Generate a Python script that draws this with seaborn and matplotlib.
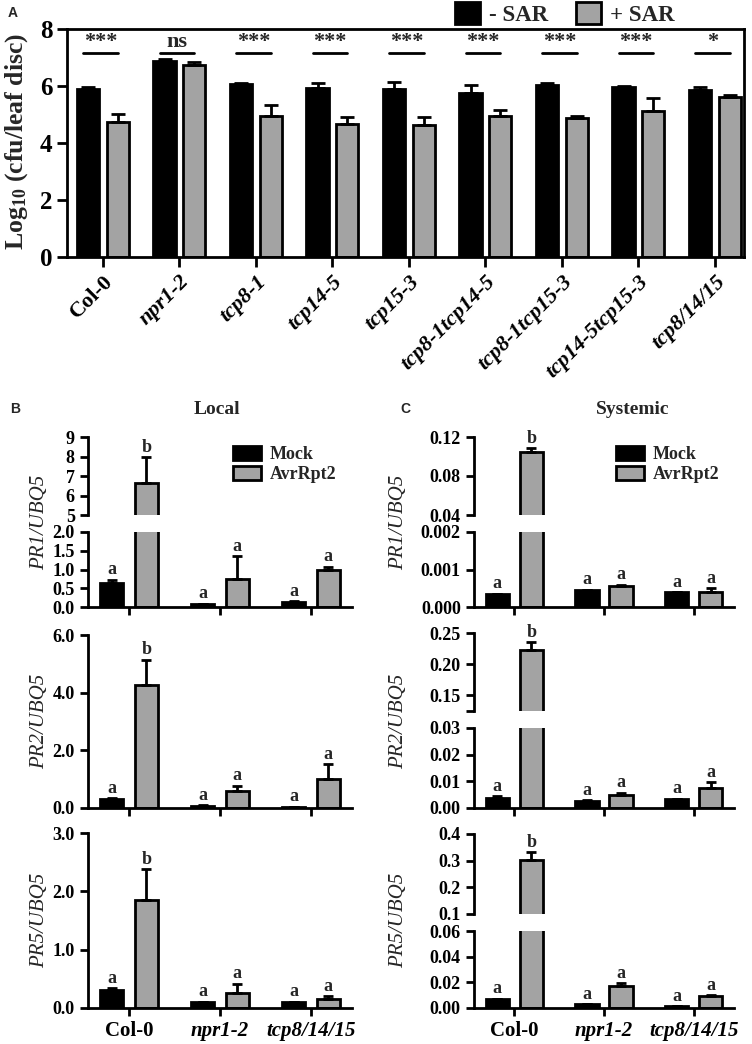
import numpy as np
import pandas as pd
import matplotlib
matplotlib.use("Agg")
import matplotlib.pyplot as plt
from matplotlib.patches import Patch
import seaborn as sns

# ---------------- data ----------------
genotypes_A = ["Col-0", "npr1-2", "tcp8-1", "tcp14-5", "tcp15-3",
               "tcp8-1tcp14-5", "tcp8-1tcp15-3", "tcp14-5tcp15-3", "tcp8/14/15"]
minus_sar = [5.90, 6.89, 6.07, 5.93, 5.89, 5.75, 6.05, 5.98, 5.86]
minus_sar_err = [0.06, 0.06, 0.04, 0.16, 0.25, 0.29, 0.05, 0.03, 0.12]
plus_sar = [4.73, 6.75, 4.94, 4.67, 4.64, 4.94, 4.88, 5.14, 5.61]
plus_sar_err = [0.27, 0.10, 0.41, 0.23, 0.27, 0.22, 0.08, 0.44, 0.08]
sig_labels = ["***", "ns", "***", "***", "***", "***", "***", "***", "*"]

genotypes_B = ["Col-0", "npr1-2", "tcp8/14/15"]
treatments = ["Mock", "AvrRpt2"]

pr1_local_mock = [0.65, 0.08, 0.14]
pr1_local_mock_err = [0.08, 0.01, 0.01]
pr1_local_avr = [6.65, 0.75, 0.98]
pr1_local_avr_err = [1.33, 0.60, 0.10]

pr2_local_mock = [0.32, 0.08, 0.03]
pr2_local_mock_err = [0.03, 0.01, 0.01]
pr2_local_avr = [4.25, 0.58, 1.02]
pr2_local_avr_err = [0.89, 0.19, 0.49]

pr5_local_mock = [0.31, 0.10, 0.10]
pr5_local_mock_err = [0.03, 0.005, 0.005]
pr5_local_avr = [1.85, 0.26, 0.16]
pr5_local_avr_err = [0.53, 0.16, 0.04]

pr1_sys_mock = [0.00035, 0.00045, 0.00039]
pr1_sys_mock_err = [0.00001, 0.00001, 0.00001]
pr1_sys_avr = [0.1047, 0.00057, 0.00039]
pr1_sys_avr_err = [0.004, 0.00003, 0.00011]

pr2_sys_mock = [0.0039, 0.0027, 0.0033]
pr2_sys_mock_err = [0.0006, 0.0002, 0.0002]
pr2_sys_avr = [0.222, 0.0048, 0.0074]
pr2_sys_avr_err = [0.013, 0.0010, 0.0022]

pr5_sys_mock = [0.0070, 0.0030, 0.0013]
pr5_sys_mock_err = [0.0003, 0.0002, 0.0001]
pr5_sys_avr = [0.304, 0.0168, 0.0090]
pr5_sys_avr_err = [0.027, 0.0026, 0.0008]

letters_mock = ["a", "a", "a"]
letters_avr = ["b", "a", "a"]

# ---------------- style ----------------
sns.set_style("ticks")
plt.rcParams['font.family'] = ['Liberation Serif', 'DejaVu Serif']
plt.rcParams['font.weight'] = 'bold'
plt.rcParams['mathtext.fontset'] = 'custom'
plt.rcParams['mathtext.rm'] = 'Liberation Serif:bold'
plt.rcParams['mathtext.bf'] = 'Liberation Serif:bold'
plt.rcParams['mathtext.it'] = 'Liberation Serif:italic:bold'
plt.rcParams['axes.edgecolor'] = 'black'
plt.rcParams['axes.linewidth'] = 2
plt.rcParams['xtick.color'] = 'black'
plt.rcParams['ytick.color'] = 'black'

GRAY = "#a3a3a3"
W, H = 752, 1044
fig = plt.figure(figsize=(W / 100, H / 100), dpi=100)


def rect(x0, x1, y0, y1):
    return [x0 / W, 1 - y1 / H, (x1 - x0) / W, (y1 - y0) / H]


def bars(ax, cats, s1, s2, names, width, gap, lw=2):
    df = pd.DataFrame({"genotype": cats * 2,
                       "group": [names[0]] * len(cats) + [names[1]] * len(cats),
                       "value": list(s1) + list(s2)})
    sns.barplot(data=df, x="genotype", y="value", hue="group", order=cats,
                hue_order=names, palette=["black", GRAY], saturation=1,
                errorbar=None, width=width, gap=gap, edgecolor="black",
                linewidth=lw, legend=False, ax=ax)
    return ax.containers[0], ax.containers[1]


def errbars(ax, cont, vals, errs, capsize):
    xs = [p.get_x() + p.get_width() / 2 for p in cont.patches]
    ax.errorbar(xs, vals, yerr=[np.zeros(len(vals)), errs], fmt='none',
                ecolor='black', elinewidth=2, capsize=capsize, capthick=2,
                zorder=1)
    return xs


def style_axis(ax, fs):
    ax.tick_params(axis='both', direction='out', length=6, width=2,
                   labelsize=fs, colors='black')
    ax.set_xlabel("")
    ax.set_ylabel("")


# ---------------- panel A ----------------
axA = fig.add_axes(rect(67, 744, 29, 257))
cA1, cA2 = bars(axA, genotypes_A, minus_sar, plus_sar, ["- SAR", "+ SAR"], 0.78, 0.26)
xa1 = errbars(axA, cA1, minus_sar, minus_sar_err, 5)
xa2 = errbars(axA, cA2, plus_sar, plus_sar_err, 5)
axA.set_ylim(0, 8)
axA.set_yticks([0, 2, 4, 6, 8])
axA.set_xlim(-0.47, 8.38)
style_axis(axA, 18)
axA.tick_params(axis='both', length=7)
for s in axA.spines.values():
    s.set_visible(True)
    s.set_linewidth(2)
axA.set_xticks(range(len(genotypes_A)))
axA.set_xticklabels(genotypes_A, rotation=45, ha='right', rotation_mode='anchor',
                    fontsize=16)
for i, t in enumerate(axA.get_xticklabels()):
    t.set_fontstyle('normal' if i == 0 else 'italic')
for i, lab in enumerate(sig_labels):
    x0, x1 = xa1[i] - 0.06, xa2[i]
    axA.plot([x0, x1], [7.16, 7.16], color='black', lw=2)
    axA.text((x0 + x1) / 2, 7.2, lab, ha='center', va='bottom', fontsize=16)
fig.text(17 / W, 1 - 141 / H, r"Log$_{10}$ (cfu/leaf disc)", rotation=90,
         ha='center', va='center', fontsize=18.5)
fig.legend(handles=[Patch(facecolor='black', edgecolor='black', lw=2, label='- SAR'),
                    Patch(facecolor=GRAY, edgecolor='black', lw=2, label='+ SAR')],
           loc='center', bbox_to_anchor=(565 / W, 1 - 14 / H), ncol=2, frameon=False,
           fontsize=16.5, handlelength=1.1, handleheight=1.05, columnspacing=1.2,
           handletextpad=0.4, borderpad=0)
fig.text(13 / W, 1 - 13 / H, "A", fontfamily='Liberation Sans', fontweight='bold',
         fontsize=10, ha='center', va='center')

# ---------------- panels B & C ----------------
XL = (-0.45, 2.45)


def letter(ax, x, y, txt):
    ax.annotate(txt, (x, y), xytext=(0, 1), textcoords='offset points',
                ha='center', va='bottom', fontsize=13, annotation_clip=False)


def set_xlabels(ax, show):
    ax.set_xticks(range(3))
    if show:
        ax.set_xticklabels(genotypes_B, fontsize=15)
        for i, t in enumerate(ax.get_xticklabels()):
            t.set_fontstyle('normal' if i == 0 else 'italic')
    else:
        ax.set_xticklabels([])


def simple_panel(r, mock, mock_err, avr, avr_err, ylim, yticks, ylabels, xlabels):
    ax = fig.add_axes(r)
    c1, c2 = bars(ax, genotypes_B, mock, avr, treatments, 0.76, 0.32)
    x1 = errbars(ax, c1, mock, mock_err, 3.5)
    x2 = errbars(ax, c2, avr, avr_err, 3.5)
    ax.set_ylim(*ylim)
    ax.set_yticks(yticks)
    ax.set_yticklabels(ylabels)
    ax.set_xlim(*XL)
    sns.despine(ax=ax)
    style_axis(ax, 13)
    for i in range(3):
        letter(ax, x1[i], mock[i] + mock_err[i], letters_mock[i])
        letter(ax, x2[i], avr[i] + avr_err[i], letters_avr[i])
    set_xlabels(ax, xlabels)
    return ax


def broken_panel(r_up, r_lo, mock, mock_err, avr, avr_err, ylim_up, yt_up, yl_up,
                 ylim_lo, yt_lo, yl_lo, xlabels):
    axu = fig.add_axes(r_up)
    axl = fig.add_axes(r_lo)
    res = []
    for ax in (axu, axl):
        c1, c2 = bars(ax, genotypes_B, mock, avr, treatments, 0.76, 0.32)
        x1 = errbars(ax, c1, mock, mock_err, 3.5)
        x2 = errbars(ax, c2, avr, avr_err, 3.5)
        ax.set_xlim(*XL)
        style_axis(ax, 13)
        res = (x1, x2)
    axu.set_ylim(*ylim_up)
    axu.set_yticks(yt_up)
    axu.set_yticklabels(yl_up)
    axl.set_ylim(*ylim_lo)
    axl.set_yticks(yt_lo)
    axl.set_yticklabels(yl_lo)
    sns.despine(ax=axu, bottom=True)
    axu.tick_params(axis='x', bottom=False, labelbottom=False)
    sns.despine(ax=axl)
    x1, x2 = res
    for i in range(3):
        for xs, v, e, L in ((x1, mock, mock_err, letters_mock), (x2, avr, avr_err, letters_avr)):
            top = v[i] + e[i]
            ax = axu if top > ylim_lo[1] else axl
            letter(ax, xs[i], top, L[i])
    set_xlabels(axl, xlabels)
    return axu, axl


# B: Local
broken_panel(rect(88, 352, 437, 515), rect(88, 352, 532, 607),
             pr1_local_mock, pr1_local_mock_err, pr1_local_avr, pr1_local_avr_err,
             (5, 9), [5, 6, 7, 8, 9], ["5", "6", "7", "8", "9"],
             (0, 2), [0, 0.5, 1.0, 1.5, 2.0], ["0.0", "0.5", "1.0", "1.5", "2.0"],
             False)
simple_panel(rect(88, 352, 635, 808), pr2_local_mock, pr2_local_mock_err,
             pr2_local_avr, pr2_local_avr_err, (0, 6), [0, 2, 4, 6],
             ["0.0", "2.0", "4.0", "6.0"], False)
simple_panel(rect(88, 352, 833, 1008), pr5_local_mock, pr5_local_mock_err,
             pr5_local_avr, pr5_local_avr_err, (0, 3), [0, 1, 2, 3],
             ["0.0", "1.0", "2.0", "3.0"], True)

# C: Systemic
broken_panel(rect(474, 734, 437, 515), rect(474, 734, 532, 607),
             pr1_sys_mock, pr1_sys_mock_err, pr1_sys_avr, pr1_sys_avr_err,
             (0.04, 0.12), [0.04, 0.08, 0.12], ["0.04", "0.08", "0.12"],
             (0, 0.002), [0, 0.001, 0.002], ["0.000", "0.001", "0.002"], False)
broken_panel(rect(474, 734, 633, 711), rect(474, 734, 728, 808),
             pr2_sys_mock, pr2_sys_mock_err, pr2_sys_avr, pr2_sys_avr_err,
             (0.125, 0.25), [0.125, 0.15, 0.20, 0.25], ["", "0.15", "0.20", "0.25"],
             (0, 0.03), [0, 0.01, 0.02, 0.03], ["0.00", "0.01", "0.02", "0.03"], False)
broken_panel(rect(474, 734, 834, 914), rect(474, 734, 931, 1008),
             pr5_sys_mock, pr5_sys_mock_err, pr5_sys_avr, pr5_sys_avr_err,
             (0.1, 0.4), [0.1, 0.2, 0.3, 0.4], ["0.1", "0.2", "0.3", "0.4"],
             (0, 0.06), [0, 0.02, 0.04, 0.06], ["0.00", "0.02", "0.04", "0.06"], True)

# legends B / C
for x0 in (233, 616):
    fig.legend(handles=[Patch(facecolor='black', edgecolor='black', lw=2, label='Mock'),
                        Patch(facecolor=GRAY, edgecolor='black', lw=2, label='AvrRpt2')],
               loc='upper left', bbox_to_anchor=(x0 / W, 1 - 446 / H), frameon=False,
               fontsize=13, handlelength=1.55, handleheight=0.8, labelspacing=0.15,
               handletextpad=0.5, borderpad=0, borderaxespad=0)

# y labels
for x in (40, 399):
    for yc, g in ((522, "PR1"), (721, "PR2"), (920, "PR5")):
        fig.text(x / W, 1 - yc / H, f"{g}/UBQ5", rotation=90, ha='center', va='center',
                 fontsize=15, fontstyle='italic', fontweight='normal')

# titles and panel letters
fig.text(217 / W, 1 - 410 / H, "Local", ha='center', va='center', fontsize=14)
fig.text(633 / W, 1 - 410 / H, "Systemic", ha='center', va='center', fontsize=14)
fig.text(15 / W, 1 - 409 / H, "B", fontfamily='Liberation Sans', fontweight='bold',
         fontsize=10, ha='center', va='center')
fig.text(405 / W, 1 - 409 / H, "C", fontfamily='Liberation Sans', fontweight='bold',
         fontsize=10, ha='center', va='center')

fig.savefig("out.png", dpi=100)
